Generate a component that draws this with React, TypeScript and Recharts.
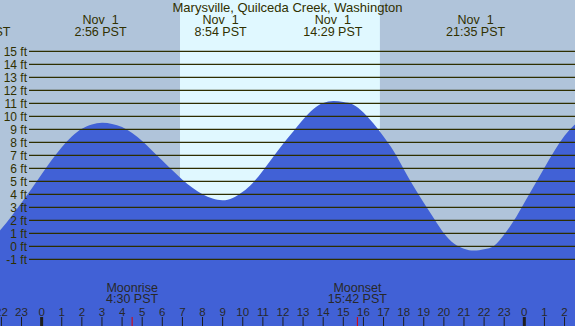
import React from "react";
import { AreaChart, Area, XAxis, YAxis, ReferenceLine, ReferenceArea } from "recharts";

// tide height (ft), hours from midnight Nov 1 (PST)
const hours = [-2.5, -2, -1.5, -1, -0.5, 0, 0.5, 1, 1.5, 2, 2.5, 3, 3.5, 4, 4.5, 5, 5.5, 6, 6.5, 7, 7.5, 8, 8.5, 9, 9.5, 10, 10.5, 11, 11.5, 12, 12.5, 13, 13.5, 14, 14.5, 15, 15.5, 16, 16.5, 17, 17.5, 18, 18.5, 19, 19.5, 20, 20.5, 21, 21.5, 22, 22.5, 23, 23.5, 24, 24.5, 25, 25.5, 26, 26.5, 27];
const heights = [0.45, 1.35, 2.32, 3.35, 4.43, 5.55, 6.64, 7.62, 8.45, 9.05, 9.38, 9.5, 9.42, 9.18, 8.72, 8.1, 7.36, 6.6, 5.85, 5.12, 4.5, 4.0, 3.67, 3.54, 3.72, 4.2, 4.88, 5.82, 6.86, 7.88, 8.82, 9.75, 10.55, 11.02, 11.18, 11.1, 10.9, 10.3, 9.45, 8.45, 7.33, 5.95, 4.6, 3.35, 2.15, 1.0, 0.22, -0.18, -0.33, -0.22, 0.05, 0.9, 2.02, 3.35, 4.7, 6.05, 7.35, 8.5, 9.35, 9.95];

const levels = [-1, 0, 1, 2, 3, 4, 5, 6, 7, 8, 9, 10, 11, 12, 13, 14, 15];
const hourTicks = [-2, -1, 0, 1, 2, 3, 4, 5, 6, 7, 8, 9, 10, 11, 12, 13, 14, 15, 16, 17, 18, 19, 20, 21, 22, 23, 24, 25, 26];

const tideTimes = [-3.02, 2.93, 8.9, 14.48, 21.58];
const tideDates = ["", "Nov  1", "Nov  1", "Nov  1", "Nov  1"];
const tideLabels = ["20:59 PST", "2:56 PST", "8:54 PST", "14:29 PST", "21:35 PST"];

const moonTimes = [4.5, 15.7];
const moonNames = ["Moonrise", "Moonset"];
const moonLabels = ["4:30 PST", "15:42 PST"];

const sunrise = 6.88;
const sunset = 16.82;

const data = hours.map((h, i) => ({ h, ft: heights[i] }));

const W = 575;
const H = 326;
const FONT = "'Liberation Sans', Arial, sans-serif";
const TXT = "#303000";

export default function App() {
  return (
    <div style={{ position: "absolute", left: 0, top: 0, width: W, height: H }}>
      <AreaChart
        width={W}
        height={H}
        data={data}
        margin={{ top: 0, right: 0, bottom: 0, left: 0 }}
        style={{ background: "#b0c4da" }}
      >
        <XAxis dataKey="h" type="number" domain={[-2.07, 26.52]} allowDataOverflow hide />
        <YAxis type="number" domain={[-6.13, 18.95]} allowDataOverflow hide />
        <ReferenceArea x1={sunrise} x2={sunset} fill="#e0f8ff" fillOpacity={1} stroke="none" ifOverflow="visible" />
        <Area
          type="natural"
          dataKey="ft"
          baseValue="dataMin"
          fill="#4161d6"
          fillOpacity={1}
          stroke="none"
          dot={false}
          activeDot={false}
          isAnimationActive={false}
        />
        {levels.map((lv) => (
          <ReferenceLine
            key={"lv" + lv}
            y={lv}
            ifOverflow="visible"
            shape={(p: any) => (
              <g>
                <line x1={p.x1 + 29} x2={p.x2} y1={p.y1} y2={p.y2} stroke="#2e2e00" strokeWidth={1.2} />
                <text x={p.x1 + 27} y={p.y1 + 4.3} textAnchor="end" fontSize={12} fontFamily={FONT} fill={TXT}>
                  {lv} ft
                </text>
              </g>
            )}
          />
        ))}
        {hourTicks.map((t) => (
          <ReferenceLine
            key={"hr" + t}
            x={t}
            ifOverflow="visible"
            shape={(p: any) => {
              const bottom = Math.max(p.y1, p.y2);
              const mid = t % 24 === 0;
              return (
                <g>
                  <line
                    x1={p.x1}
                    x2={p.x1}
                    y1={bottom - 9}
                    y2={bottom}
                    stroke="#1e1e1e"
                    strokeWidth={mid ? 3 : 1}
                  />
                  <text x={p.x1} y={bottom - 10} textAnchor="middle" fontSize={11.5} fontFamily={FONT} fill="#282828">
                    {((t % 24) + 24) % 24}
                  </text>
                </g>
              );
            }}
          />
        ))}
        {moonTimes.map((m, i) => (
          <ReferenceLine
            key={"moon" + i}
            x={m}
            ifOverflow="visible"
            shape={(p: any) => {
              const bottom = Math.max(p.y1, p.y2);
              return (
                <g>
                  <line x1={p.x1} x2={p.x1} y1={bottom - 9} y2={bottom} stroke="#e00000" strokeWidth={1} />
                  <text x={p.x1} y={bottom - 34.5} textAnchor="middle" fontSize={12.5} fontFamily={FONT} fill="#282828">
                    {moonNames[i]}
                  </text>
                  <text x={p.x1} y={bottom - 23.5} textAnchor="middle" fontSize={12.5} fontFamily={FONT} fill="#282828">
                    {moonLabels[i]}
                  </text>
                </g>
              );
            }}
          />
        ))}
        {tideTimes.map((tt, i) => (
          <ReferenceLine
            key={"tide" + i}
            x={tt}
            ifOverflow="visible"
            shape={(p: any) => (
              <g>
                {tideDates[i] && (
                  <text
                    x={p.x1}
                    y={24}
                    textAnchor="middle"
                    fontSize={12.5}
                    fontFamily={FONT}
                    fill={TXT}
                    style={{ whiteSpace: "pre" }}
                  >
                    {tideDates[i]}
                  </text>
                )}
                <text x={p.x1} y={36} textAnchor="middle" fontSize={12.5} fontFamily={FONT} fill={TXT}>
                  {tideLabels[i]}
                </text>
              </g>
            )}
          />
        ))}
      </AreaChart>
      <svg
        width={W}
        height={20}
        style={{ position: "absolute", left: 0, top: 0, pointerEvents: "none" }}
      >
        <text x={W / 2} y={11.5} textAnchor="middle" fontSize={13} fontFamily={FONT} fill={TXT}>
          Marysville, Quilceda Creek, Washington
        </text>
      </svg>
    </div>
  );
}
